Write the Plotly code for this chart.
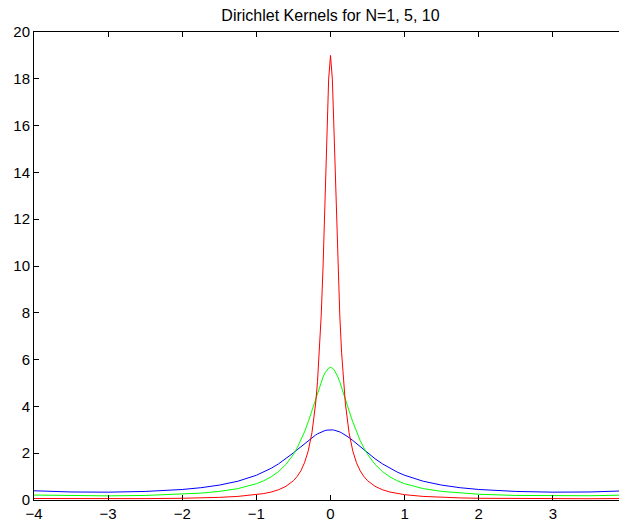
import plotly.graph_objects as go

# sample points (symmetric about 0, denser near the peak)
x_half = [4, 3.5, 3, 2.5, 2, 1.75, 1.5, 1.25, 1, 0.9, 0.8, 0.7, 0.6, 0.5, 0.45,
          0.4, 0.35, 0.3, 0.25, 0.2, 0.175, 0.15, 0.125, 0.1, 0.075, 0.05, 0.025, 0]

# kernel heights at x_half (same order)
blue_half = [0.394, 0.343, 0.335, 0.366, 0.450, 0.525, 0.636, 0.802, 1.057, 1.194,
             1.356, 1.546, 1.766, 2.014, 2.146, 2.280, 2.415, 2.545, 2.668, 2.779,
             2.827, 2.871, 2.909, 2.941, 2.967, 2.985, 2.996, 3.0]
green_half = [0.212, 0.182, 0.177, 0.195, 0.246, 0.293, 0.367, 0.486, 0.695, 0.823,
              0.991, 1.217, 1.525, 1.951, 2.224, 2.543, 2.916, 3.344, 3.819, 4.326,
              4.579, 4.824, 5.053, 5.258, 5.429, 5.559, 5.639, 5.667]
red_half = [0.064, 0.054, 0.053, 0.058, 0.074, 0.089, 0.113, 0.153, 0.227, 0.275,
            0.342, 0.439, 0.586, 0.825, 1.004, 1.249, 1.595, 2.102, 2.881, 4.141,
            5.068, 6.289, 7.902, 10.004, 12.616, 15.510, 17.988, 19.0]

x_ticks = [-4, -3, -2, -1, 0, 1, 2, 3, 4]
y_ticks = [0, 2, 4, 6, 8, 10, 12, 14, 16, 18, 20]


def mirror(xs, ys):
    # left half is the mirror image of the right half
    xx = [-v for v in xs] + xs[::-1][1:]
    yy = ys + ys[::-1][1:]
    return xx, yy


fig = go.Figure()
for ys, col in [(blue_half, "#0000ff"), (green_half, "#00ff00"), (red_half, "#ff0000")]:
    xx, yy = mirror(x_half, ys)
    fig.add_trace(go.Scatter(x=xx, y=yy, mode="lines",
                             line=dict(color=col, width=1), showlegend=False))

axis_style = dict(showline=True, mirror="ticks", linecolor="black", linewidth=1,
                  ticks="inside", ticklen=5, tickcolor="black", tickwidth=1,
                  showgrid=False, zeroline=False, automargin=False,
                  tickfont=dict(size=15, color="black"))

# page body has an 8px margin, so the figure is a bit smaller than the window
fig.update_layout(
    width=619, height=515,
    margin=dict(l=26, r=0, t=24, b=23, autoexpand=False),
    paper_bgcolor="white", plot_bgcolor="white",
    font=dict(family="Liberation Sans, Arial, sans-serif", size=15, color="black"),
    title=dict(text="Dirichlet Kernels for N=1, 5, 10", x=0.5, xref="paper",
               y=1 - 7 / 515, yanchor="middle", font=dict(size=16)),
    xaxis=dict(range=[-4, 4], tickvals=x_ticks, **axis_style),
    yaxis=dict(range=[0, 20], tickvals=y_ticks, **axis_style),
)

fig.write_html("out.html")
